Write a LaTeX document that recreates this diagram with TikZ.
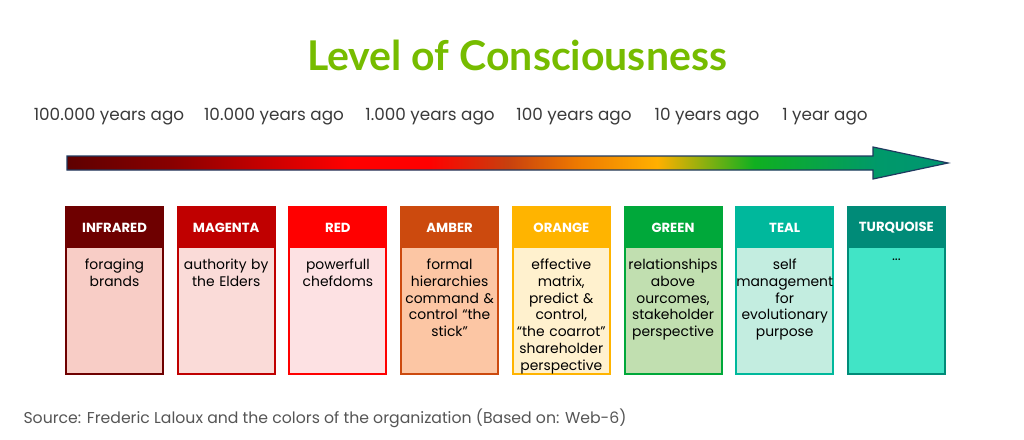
\documentclass[tikz,border=0pt]{standalone}
\usepackage{fontspec}
\setmainfont{Poppins}
\newfontfamily\titlefont{Lato}
\usetikzlibrary{calc}
\definecolor{titlegreen}{HTML}{76BC00}
\definecolor{timegray}{HTML}{3A3A3A}
\definecolor{srcgray}{HTML}{555555}
\definecolor{arrowline}{HTML}{1F3A5F}
\definecolor{sA}{HTML}{5E0000}
\definecolor{sB}{HTML}{8A0000}
\definecolor{sC}{HTML}{FF0000}
\definecolor{sD}{HTML}{C8400E}
\definecolor{sE}{HTML}{EE7A00}
\definecolor{sF}{HTML}{FFB000}
\definecolor{sG}{HTML}{10B020}
\definecolor{sH}{HTML}{00996A}
\definecolor{sI}{HTML}{009570}
\definecolor{infraH}{HTML}{6E0000}\definecolor{infraB}{HTML}{F8CDC6}
\definecolor{magH}{HTML}{C00000}\definecolor{magB}{HTML}{FADBD8}
\definecolor{redH}{HTML}{FF0000}\definecolor{redB}{HTML}{FDE1E3}
\definecolor{ambH}{HTML}{CC4A0E}\definecolor{ambB}{HTML}{FCC6A4}
\definecolor{oraH}{HTML}{FFB400}\definecolor{oraB}{HTML}{FFF1CE}
\definecolor{greH}{HTML}{00A83A}\definecolor{greB}{HTML}{C1DFB0}
\definecolor{tealH}{HTML}{00B89C}\definecolor{tealB}{HTML}{C3EDE0}
\definecolor{turH}{HTML}{008B78}\definecolor{turB}{HTML}{41E4C6}
\pgfdeclarehorizontalshading{timeline}{100bp}{color(0bp)=(sA); color(25bp)=(sA);
 color(31bp)=(sB); color(41bp)=(sC); color(45.5bp)=(sC); color(50bp)=(sD);
 color(54bp)=(sE); color(58.5bp)=(sF); color(64bp)=(sG); color(71bp)=(sH);
 color(75bp)=(sI); color(100bp)=(sI)}
\tikzset{
  frame/.style={anchor=north west, minimum width=99pt, minimum height=169pt, inner sep=0pt, outer sep=0pt},
  body/.style={anchor=north, minimum width=95pt, minimum height=125pt, inner sep=0pt, outer sep=0pt},
  headtext/.style={text=white, font=\fontsize{13.2}{15}\selectfont\bfseries},
  bodytext/.style={anchor=north, align=center, text width=97pt, inner sep=0pt, font=\fontsize{13.9}{16.7}\selectfont},
  timelabel/.style={anchor=base, text=timegray, font=\fontsize{16.8}{18}\selectfont}
}
\begin{document}
\begin{tikzpicture}[x=1pt,y=-1pt]
\useasboundingbox (0,0) rectangle (1024,439);
\node[anchor=base, text=titlegreen, font=\titlefont\fontsize{41}{46}\selectfont\bfseries] (title) at (517,70) {Level of Consciousness};
% time scale
\foreach \x/\t [count=\i] in {109/100.000 years ago, 274/10.000 years ago, 430/1.000 years ago,
  574/100 years ago, 707/10 years ago, 825/1 year ago}
  \node[timelabel] (time\i) at (\x,120) {\t};
\coordinate (arrL) at (67,163);
\coordinate (arrT) at (948,163);
\draw[arrowline, line width=1.2pt, shading=timeline]
  ($(arrL)+(0,-7)$) -- (873,156) -- (873,147) -- (arrT) -- (873,179) -- (873,170) -- ($(arrL)+(0,7)$) -- cycle;
% levels
\foreach \n/\hc/\bc/\head/\txt [count=\i from 0] in {
  infrared/infraH/infraB/INFRARED/{foraging\\brands},
  magenta/magH/magB/MAGENTA/{authority by\\the Elders},
  red/redH/redB/RED/{powerfull\\chefdoms},
  amber/ambH/ambB/AMBER/{formal\\hierarchies\\command \&\\control “the\\stick”},
  orange/oraH/oraB/ORANGE/{effective\\matrix,\\predict \&\\control,\\“the coarrot”\\shareholder\\perspective},
  green/greH/greB/GREEN/{relationships\\above\\ourcomes,\\stakeholder\\perspective},
  teal/tealH/tealB/TEAL/{self\\management\\for\\evolutionary\\purpose},
  turquoise/turH/turB/TURQUOISE/{...}}{
  \node[frame, fill=\hc] (\n) at ({65+111.7*\i},206) {};
  \node[body, fill=\bc] (\n-body) at ([yshift=-42pt]\n.north) {};
  \node[headtext] (\n-head) at ([yshift=-22pt]\n.north) {\head};
  \node[bodytext] (\n-text) at ([yshift=-11pt]\n-body.north) {\txt};
}
\node[anchor=base west, text=srcgray, font=\fontsize{15.7}{18}\selectfont] (source) at (20,423)
  {Source: Frederic Laloux and the colors of the organization (Based on: Web-6)};
\end{tikzpicture}
\end{document}
